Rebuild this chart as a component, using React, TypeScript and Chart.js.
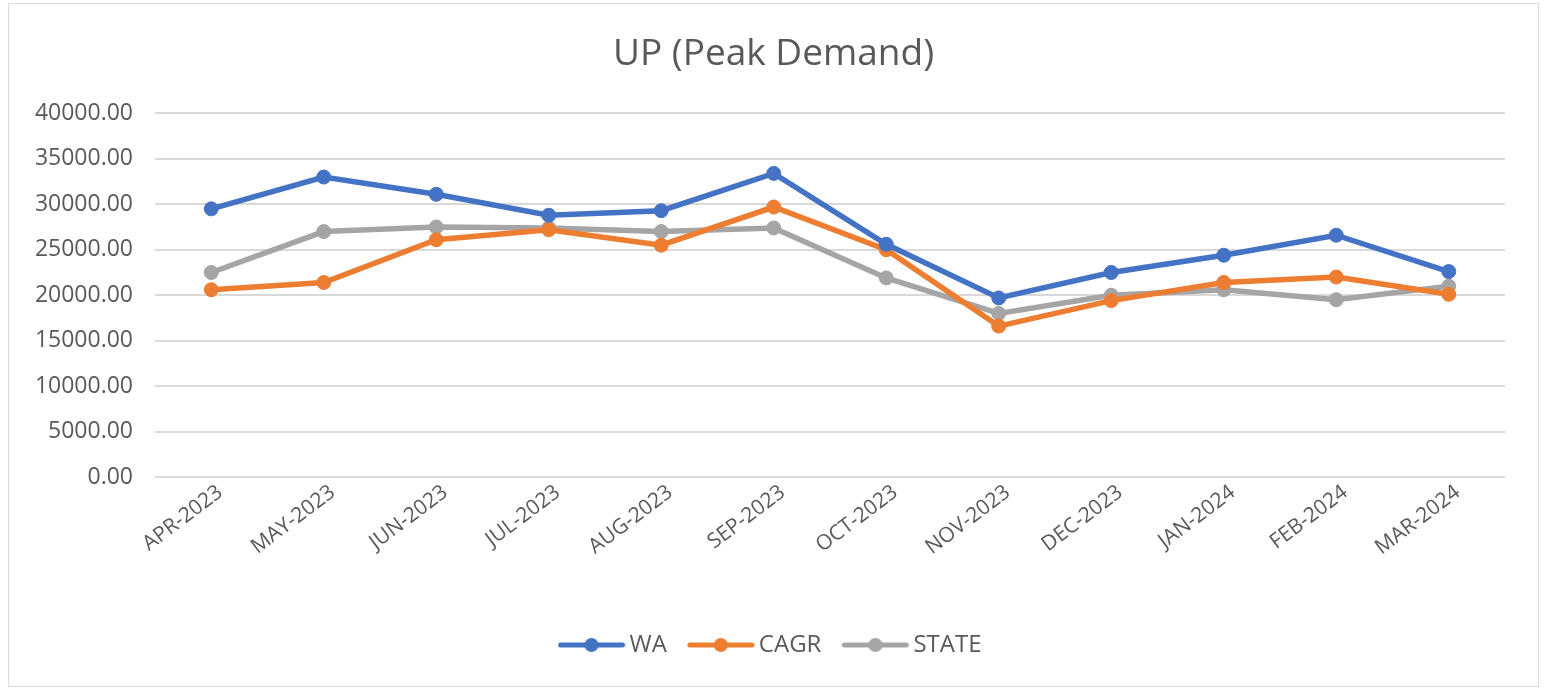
import React, { useEffect, useRef } from "react";
import { Chart, registerables } from "chart.js";

Chart.register(...registerables);

const categories = [
  "APR-2023", "MAY-2023", "JUN-2023", "JUL-2023", "AUG-2023", "SEP-2023",
  "OCT-2023", "NOV-2023", "DEC-2023", "JAN-2024", "FEB-2024", "MAR-2024",
];
const waValues = [29500, 33000, 31100, 28800, 29300, 33400, 25600, 19700, 22500, 24400, 26600, 22600];
const cagrValues = [20600, 21400, 26100, 27200, 25500, 29700, 25000, 16600, 19400, 21400, 22000, 20100];
const stateValues = [22500, 27000, 27500, 27400, 27000, 27400, 21900, 18000, 20000, 20600, 19500, 21000];
const seriesNames = ["WA", "CAGR", "STATE"];
const seriesColors = ["#4472C4", "#ED7D31", "#A5A5A5"];
const yMin = 0;
const yMax = 40000;
const yStep = 5000;
const titleText = "UP (Peak Demand)";

const FONT = "'Open Sans', 'DejaVu Sans', sans-serif";

function legendImage(color: string): HTMLCanvasElement {
  const c = document.createElement("canvas");
  c.width = 68;
  c.height = 16;
  const ctx = c.getContext("2d")!;
  ctx.strokeStyle = color;
  ctx.lineWidth = 5;
  ctx.lineCap = "round";
  ctx.beginPath();
  ctx.moveTo(3, 8);
  ctx.lineTo(65, 8);
  ctx.stroke();
  ctx.fillStyle = color;
  ctx.beginPath();
  ctx.arc(34, 8, 7, 0, Math.PI * 2);
  ctx.fill();
  return c;
}

export default function App() {
  const ref = useRef<HTMLCanvasElement | null>(null);

  useEffect(() => {
    if (!ref.current) return;
    const values = [waValues, cagrValues, stateValues];
    const images = seriesColors.map((c) => legendImage(c));
    const chart = new Chart(ref.current, {
      type: "line",
      data: {
        labels: categories,
        datasets: values.map((v, i) => ({
          label: seriesNames[i],
          data: v,
          yAxisID: "y",
          borderColor: seriesColors[i],
          backgroundColor: seriesColors[i],
          pointBackgroundColor: seriesColors[i],
          pointBorderColor: seriesColors[i],
          pointBorderWidth: 1,
          pointRadius: 7,
          pointStyle: "circle",
          borderWidth: 5.5,
          tension: 0,
          fill: false,
        })),
      },
      options: {
        animation: false,
        responsive: false,
        maintainAspectRatio: false,
        layout: { padding: { left: 0, right: 0, top: 0, bottom: 19 } },
        plugins: {
          title: {
            display: true,
            text: titleText,
            color: "#595959",
            font: { family: FONT, size: 37, weight: "normal" },
            padding: { top: 28, bottom: 37 },
          },
          legend: {
            display: true,
            position: "bottom",
            labels: {
              usePointStyle: true,
              pointStyleWidth: 52,
              color: "#595959",
              font: { family: FONT, size: 24 },
              padding: 28,
              generateLabels: (ch: any) =>
                ch.data.datasets.map((ds: any, i: number) => ({
                  text: ds.label,
                  pointStyle: images[i],
                  fillStyle: seriesColors[i],
                  strokeStyle: seriesColors[i],
                  lineWidth: 0,
                  hidden: false,
                  datasetIndex: i,
                  fontColor: "#595959",
                })),
            },
          },
          tooltip: { enabled: false },
        },
        scales: {
          x: {
            offset: true,
            grid: { display: false, drawTicks: false },
            border: { display: false },
            afterFit: (scale: any) => {
              scale.height = 128;
            },
            ticks: {
              color: "#595959",
              font: { family: FONT, size: 21 },
              minRotation: 37,
              maxRotation: 37,
              padding: 3,
              labelOffset: 9,
              autoSkip: false,
            },
          },
          y: {
            position: "left",
            min: yMin,
            max: yMax,
            grid: { color: "#D9D9D9", lineWidth: 2, drawTicks: false },
            border: { display: false },
            afterFit: (scale: any) => {
              scale.width = 146;
            },
            ticks: {
              stepSize: yStep,
              color: "#595959",
              font: { family: FONT, size: 23 },
              padding: 22,
              callback: (v: any) => Number(v).toFixed(2),
            },
          },
          yRight: {
            position: "right",
            display: true,
            min: yMin,
            max: yMax,
            grid: { display: false, drawTicks: false },
            border: { display: false },
            ticks: { display: false },
            afterFit: (scale: any) => {
              scale.width = 33;
            },
          },
        },
      },
    });
    return () => chart.destroy();
  }, []);

  return (
    <div
      style={{
        position: "absolute",
        left: 8,
        top: 3,
        width: 1531,
        height: 684,
        border: "1px solid #D9D9D9",
        boxSizing: "border-box",
        background: "#fff",
      }}
    >
      <canvas ref={ref} width={1529} height={682} style={{ display: "block" }} />
    </div>
  );
}
